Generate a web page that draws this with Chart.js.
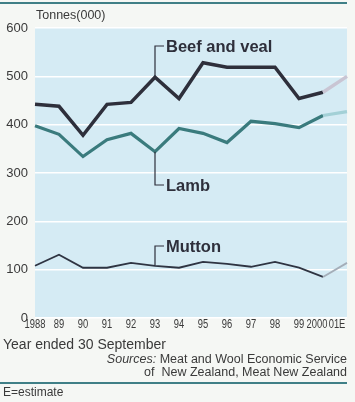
<!DOCTYPE html>
<html>
<head>
<meta charset="utf-8">
<script src="https://cdn.jsdelivr.net/npm/chart.js@4"></script>
<style>
  html, body { margin: 0; padding: 0; background: #f5f7f4; }
  #wrap { width: 355px; height: 402px; position: relative; }
</style>
</head>
<body>
<div id="wrap"><canvas id="myChart" width="355" height="402"></canvas></div>
<script>
// years ended 30 September, tonnes (000)
const years = ['1988', '89', '90', '91', '92', '93', '94', '95', '96', '97', '98', '99', '2000', '01E'];
const beefVeal = [442, 438, 378, 442, 446, 498, 454, 528, 519, 519, 519, 454, 467, 500];
const lamb = [398, 380, 334, 369, 382, 344, 392, 382, 363, 407, 402, 394, 419, 427];
const mutton = [108, 131, 104, 104, 114, 108, 104, 116, 112, 106, 116, 104, 85, 114];
const yTicks = [0, 100, 200, 300, 400, 500, 600];

const estIndex = years.length - 1; // last point is the estimate

function seg(solid, light) {
    return {
        borderColor: ctx => ctx.p1DataIndex === estIndex ? light : solid
    };
}

// panel background, rules and labels round the plot
const decor = {
    id: 'decor',
    beforeDraw(chart) {
        const c = chart.ctx, a = chart.chartArea;
        c.save();
        c.fillStyle = '#d5ebf4';
        c.fillRect(a.left, a.top - 1, a.right - a.left, a.bottom - a.top + 1);
        // rules
        c.strokeStyle = '#3f7f86';
        c.lineWidth = 2;
        c.beginPath(); c.moveTo(0, 3); c.lineTo(347, 3); c.stroke();
        c.beginPath(); c.moveTo(0, 383); c.lineTo(347, 383); c.stroke();
        c.fillStyle = '#3a3a3a';
        c.font = '12.5px "Liberation Sans", Arial, sans-serif';
        c.textBaseline = 'middle';
        c.textAlign = 'left';
        c.fillText('Tonnes(000)', 36, 16);
        c.font = '14px "Liberation Sans", Arial, sans-serif';
        c.fillText('Year ended 30 September', 3, 345);
        c.font = '12.5px "Liberation Sans", Arial, sans-serif';
        c.textAlign = 'right';
        c.fillText('of  New Zealand, Meat New Zealand', 347, 373);
        const rest = ' Meat and Wool Economic Service';
        c.fillText(rest, 347, 360);
        const w = c.measureText(rest).width;
        c.font = 'italic 12.5px "Liberation Sans", Arial, sans-serif';
        c.fillText('Sources:', 347 - w, 360);
        c.textAlign = 'left';
        c.font = '12px "Liberation Sans", Arial, sans-serif';
        c.fillText('E=estimate', 3, 393);
        c.restore();
    },
    afterDraw(chart) {
        // condensed category labels, as in the printed chart
        const c = chart.ctx, xs = chart.scales.x;
        const nudge = { 12: -6, 13: -10 };
        c.save();
        c.fillStyle = '#3a3a3a';
        c.font = '12px "Liberation Sans", Arial, sans-serif';
        c.textBaseline = 'middle';
        c.textAlign = 'center';
        const k = 0.78;
        years.forEach((lab, i) => {
            const x = xs.getPixelForValue(i) + (nudge[i] || 0);
            c.save();
            c.translate(x, 325);
            c.scale(k, 1);
            c.fillText(lab, 0, 0);
            c.restore();
        });
        c.restore();
    },
    afterDatasetsDraw(chart) {
        const c = chart.ctx;
        const xs = chart.scales.x, ys = chart.scales.y;
        const x93 = xs.getPixelForValue(5);
        const labels = [
            { text: 'Beef and veal', v: beefVeal[5], ty: 46 },
            { text: 'Lamb', v: lamb[5], ty: 185 },
            { text: 'Mutton', v: mutton[5], ty: 246 }
        ];
        c.save();
        c.strokeStyle = '#2e2f3b';
        c.lineWidth = 1.2;
        c.fillStyle = '#2e2f3b';
        c.font = 'bold 16.5px "Liberation Sans", Arial, sans-serif';
        c.textBaseline = 'middle';
        labels.forEach(l => {
            c.beginPath();
            c.moveTo(x93, ys.getPixelForValue(l.v));
            c.lineTo(x93, l.ty);
            c.lineTo(x93 + 9, l.ty);
            c.stroke();
            c.fillText(l.text, x93 + 11, l.ty + 1);
        });
        c.restore();
    }
};

const data = {
    labels: years,
    datasets: [
        {
            label: 'Beef and veal',
            data: beefVeal,
            borderColor: '#2e2f3b',
            borderWidth: 3.5,
            segment: seg('#2e2f3b', '#c9c5d3')
        },
        {
            label: 'Lamb',
            data: lamb,
            borderColor: '#3a7b7d',
            borderWidth: 3.2,
            segment: seg('#3a7b7d', '#a3d0d6')
        },
        {
            label: 'Mutton',
            data: mutton,
            borderColor: '#2f3442',
            borderWidth: 1.8,
            segment: seg('#2f3442', '#a4adb8')
        }
    ]
};

const options = {
    responsive: false,
    animation: false,
    layout: { padding: { left: 0, right: 8, top: 28, bottom: 0 } },
    elements: { point: { radius: 0 }, line: { tension: 0, borderJoinStyle: 'miter' } },
    plugins: { legend: { display: false }, tooltip: { enabled: false } },
    scales: {
        x: {
            offset: false,
            grid: { display: false, drawTicks: false },
            border: { display: false },
            ticks: { display: false },
            afterFit(scale) { scale.height = 84; }
        },
        y: {
            min: 0,
            max: 600,
            afterBuildTicks(scale) { scale.ticks = yTicks.map(v => ({ value: v })); },
            grid: { color: '#ffffff', lineWidth: 1.5, drawTicks: false },
            border: { display: false },
            ticks: {
                color: '#3a3a3a',
                font: { family: '"Liberation Sans", Arial', size: 13 },
                padding: 7
            },
            afterFit(scale) { scale.width = 35; }
        }
    }
};

const ctx = document.getElementById('myChart').getContext('2d');
const myChart = new Chart(ctx, {
    type: 'line',
    data: data,
    options: options,
    plugins: [decor]
});
</script>
</body>
</html>
